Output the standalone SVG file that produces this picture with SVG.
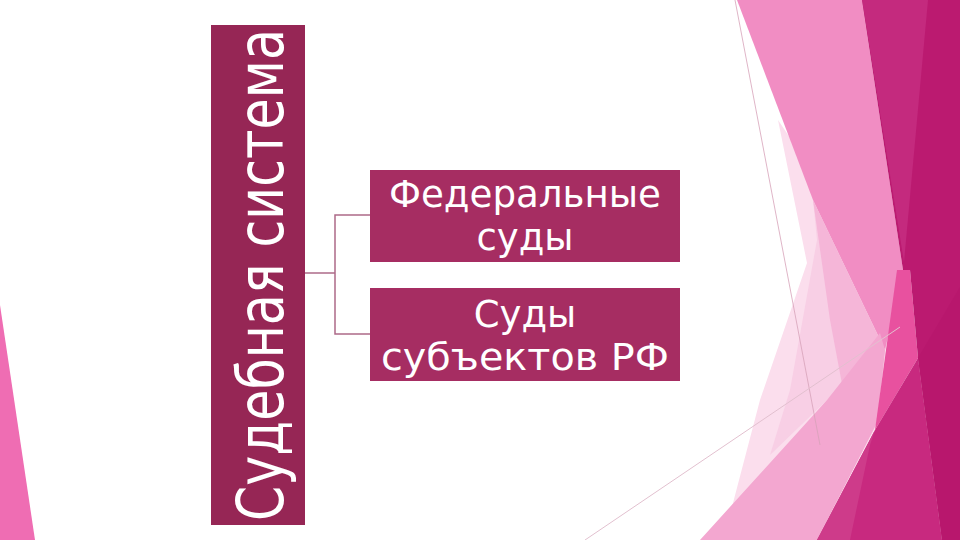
<svg xmlns="http://www.w3.org/2000/svg" width="960" height="540" viewBox="0 0 960 540">
<style>
.box{fill:#a62d62}
.title{fill:#962655}
.t{font-family:"DejaVu Sans","Liberation Sans",sans-serif;fill:#ffffff;text-anchor:middle}
.conn{fill:none;stroke:#ad6a88;stroke-width:1.5}
</style>
<rect width="960" height="540" fill="#ffffff"/>
<g id="background">
<polygon points="0,305 35,540 0,540" fill="#ef6db3"/>
<polygon points="778,120 900,300 900,540 722,540 733,503 760,400 807,263" fill="#fbdeed"/>
<polygon points="813,200 880,343 827,400 770,455 790,390 817,240" fill="#f8cfe5"/>
<polygon points="737,0 862,0 903,270 885,350 813,200" fill="#f18dc3"/>
<polygon points="813,200 885,350 877,423 860,440 845,400 830,320" fill="#f5b6d8"/>
<polygon points="700,540 827,400 880,333 885,350 877,423 817,540" fill="#f3a7d0"/>
<polygon points="897,270 910,270 918,358 875,430" fill="#e8519f"/>
<polygon points="918,358 942,540 817,540 875,430" fill="#c8297f"/>
<polygon points="817,540 850,540 870,445 875,430" fill="#ce3b8a"/>
<polygon points="862,0 960,0 960,540 942,540 918,358 910,270 903,270" fill="#bb1a70"/>
<polygon points="862,0 928,0 904,262" fill="#c42a7e"/>
<polygon points="918,358 960,287 960,540 942,540" fill="#b8176d"/>
<line x1="735" y1="0" x2="820" y2="445" stroke="#d7a2b9" stroke-width="0.8"/>
<line x1="585" y1="540" x2="900" y2="327" stroke="#e2c0cf" stroke-width="1"/>
</g>
<g id="connectors">
<polyline class="conn" points="305,273 335,273"/>
<polyline class="conn" points="370,215 335,215 335,334 370,334"/>
</g>
<g id="node-root">
<rect class="title" x="211" y="25" width="94" height="500"/>
<text class="t" font-size="64" style="text-anchor:start" transform="translate(283,521) rotate(-90)" textLength="492" lengthAdjust="spacingAndGlyphs">Судебная система</text>
</g>
<g id="node-federal">
<rect class="box" x="370" y="170" width="310" height="92"/>
<text class="t" font-size="37" x="525" y="207" textLength="272" lengthAdjust="spacingAndGlyphs">Федеральные</text>
<text class="t" font-size="37" x="525" y="250">суды</text>
</g>
<g id="node-subjects">
<rect class="box" x="370" y="288" width="310" height="93"/>
<text class="t" font-size="37" x="525" y="327">Суды</text>
<text class="t" font-size="37" x="525" y="370" textLength="288" lengthAdjust="spacingAndGlyphs">субъектов РФ</text>
</g>
</svg>
